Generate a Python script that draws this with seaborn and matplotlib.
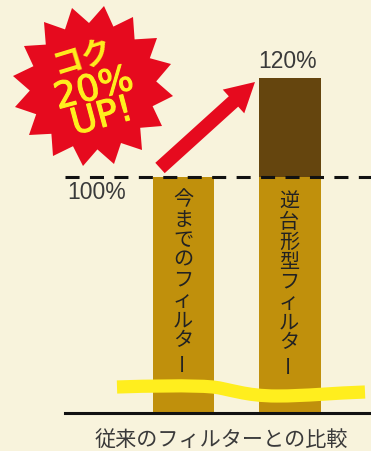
import numpy as np
import pandas as pd
import seaborn as sns
import matplotlib
matplotlib.use("Agg")
import matplotlib.pyplot as plt
import matplotlib.patheffects as pe
from matplotlib.patches import Polygon, PathPatch, FancyArrow
from matplotlib.path import Path

sns.set_theme(style="white")
plt.rcParams["font.family"] = ["Noto Sans CJK JP", "DejaVu Sans"]

# Chart values
filters = ["今までのフィルター", "逆台形型フィルター"]
base_values = [100, 100]
total_values = [100, 120]
value_labels = ["100%", "120%"]
footer = "従来のフィルターとの比較"
burst_lines = ["コク", "20%", "UP!"]

PAPER = "#F8F3DC"
GOLD = "#C0900C"
BROWN = "#65450E"
RED = "#E60A1E"
YELLOW = "#FFEE1E"

W, H = 371, 452
fig = plt.figure(figsize=(W / 100, H / 100), dpi=100, facecolor=PAPER)

# Bars start below the visible range: the value axis is cut off at the baseline
ax = fig.add_axes([65 / W, (H - 413.5) / H, 1 - 65 / W, 413.5 / H], facecolor="none")
df = pd.DataFrame({"filter": filters, "base": base_values, "total": total_values})
sns.barplot(data=df, x="filter", y="total", color=BROWN, width=0.58, saturation=1, linewidth=0, ax=ax)
sns.barplot(data=df, x="filter", y="base", color=GOLD, width=0.58, saturation=1, linewidth=0, ax=ax)
ax.set_xlim(-1.113, 1.761)
ax.set_ylim(52.4, 136)
ax.set_xticks([])
ax.set_yticks([])
ax.set_xlabel("")
ax.set_ylabel("")
for side in ["top", "left", "right"]:
    ax.spines[side].set_visible(False)
ax.spines["bottom"].set_color("#111111")
ax.spines["bottom"].set_linewidth(2.2)

# Reference line at the 100% level
ax.axhline(100, color="#111111", lw=2.2, dashes=(4.6, 3.4), zorder=5)

# Overlay in pixel coordinates for the decorations
ov = fig.add_axes([0, 0, 1, 1], facecolor="none")
ov.set_xlim(0, W)
ov.set_ylim(H, 0)
ov.axis("off")

# Burst badge
tips = np.array([(72, 9), (104, 7), (133, 18), (157, 39), (171, 65), (173, 97),
                 (162, 127), (142, 151), (114, 165), (83, 167), (53, 157),
                 (29, 136), (15, 108), (13, 77), (24, 47), (44, 23)], float)
centre = np.array([93.0, 88.0])
outline = []
for i, tip in enumerate(tips):
    nxt = tips[(i + 1) % len(tips)]
    outline.append(tip)
    outline.append(centre + ((tip + nxt) / 2 - centre) * 0.80)
ov.add_patch(Polygon(outline, closed=True, fc=RED, ec="none"))
ov.text(83, 57, burst_lines[0], color=YELLOW, fontsize=22, fontweight="bold", rotation=17,
        ha="center", va="center", rotation_mode="anchor")
for line, (x, y) in zip(burst_lines[1:], [(94, 90), (102, 118)]):
    ov.text(x, y, line, color=YELLOW, fontsize=26, family="DejaVu Sans", rotation=15,
            ha="center", va="center", rotation_mode="anchor",
            path_effects=[pe.withStroke(linewidth=0.8, foreground=YELLOW)])

# Rising arrow between the two bar heights
ov.add_patch(FancyArrow(160, 169, 95, -86, width=14, head_width=32, head_length=29,
                        length_includes_head=True, fc=RED, ec="none"))

# Values beside the bars
ov.text(97, 193, value_labels[0], color="#3A3A3A", fontsize=16.5, family="Liberation Sans", ha="center", va="center")
ov.text(287.5, 61, value_labels[1], color="#3A3A3A", fontsize=16.5, family="Liberation Sans", ha="center", va="center")

# Vertical filter names set one character at a time
for label, cx, start in zip(filters, [183, 289], [200, 202]):
    for i, ch in enumerate(label):
        ov.text(cx, start + i * 20.1, ch, color="#222222", fontsize=14.5,
                ha="center", va="center", rotation=90 if ch == "ー" else 0)

# Band marking the cut in the value axis
band = Path([(117, 388), (150, 387), (190, 386), (213, 388), (230, 390), (245, 397),
             (277, 397), (305, 397), (335, 394), (365, 393)],
            [Path.MOVETO] + [Path.CURVE4] * 9)
ov.add_patch(PathPatch(band, fc="none", ec=YELLOW, lw=9.5, capstyle="butt"))

ov.text(221.5, 440, footer, color="#3A3A3A", fontsize=15.2, ha="center", va="center")

fig.savefig("out.png", dpi=100, facecolor=PAPER)
